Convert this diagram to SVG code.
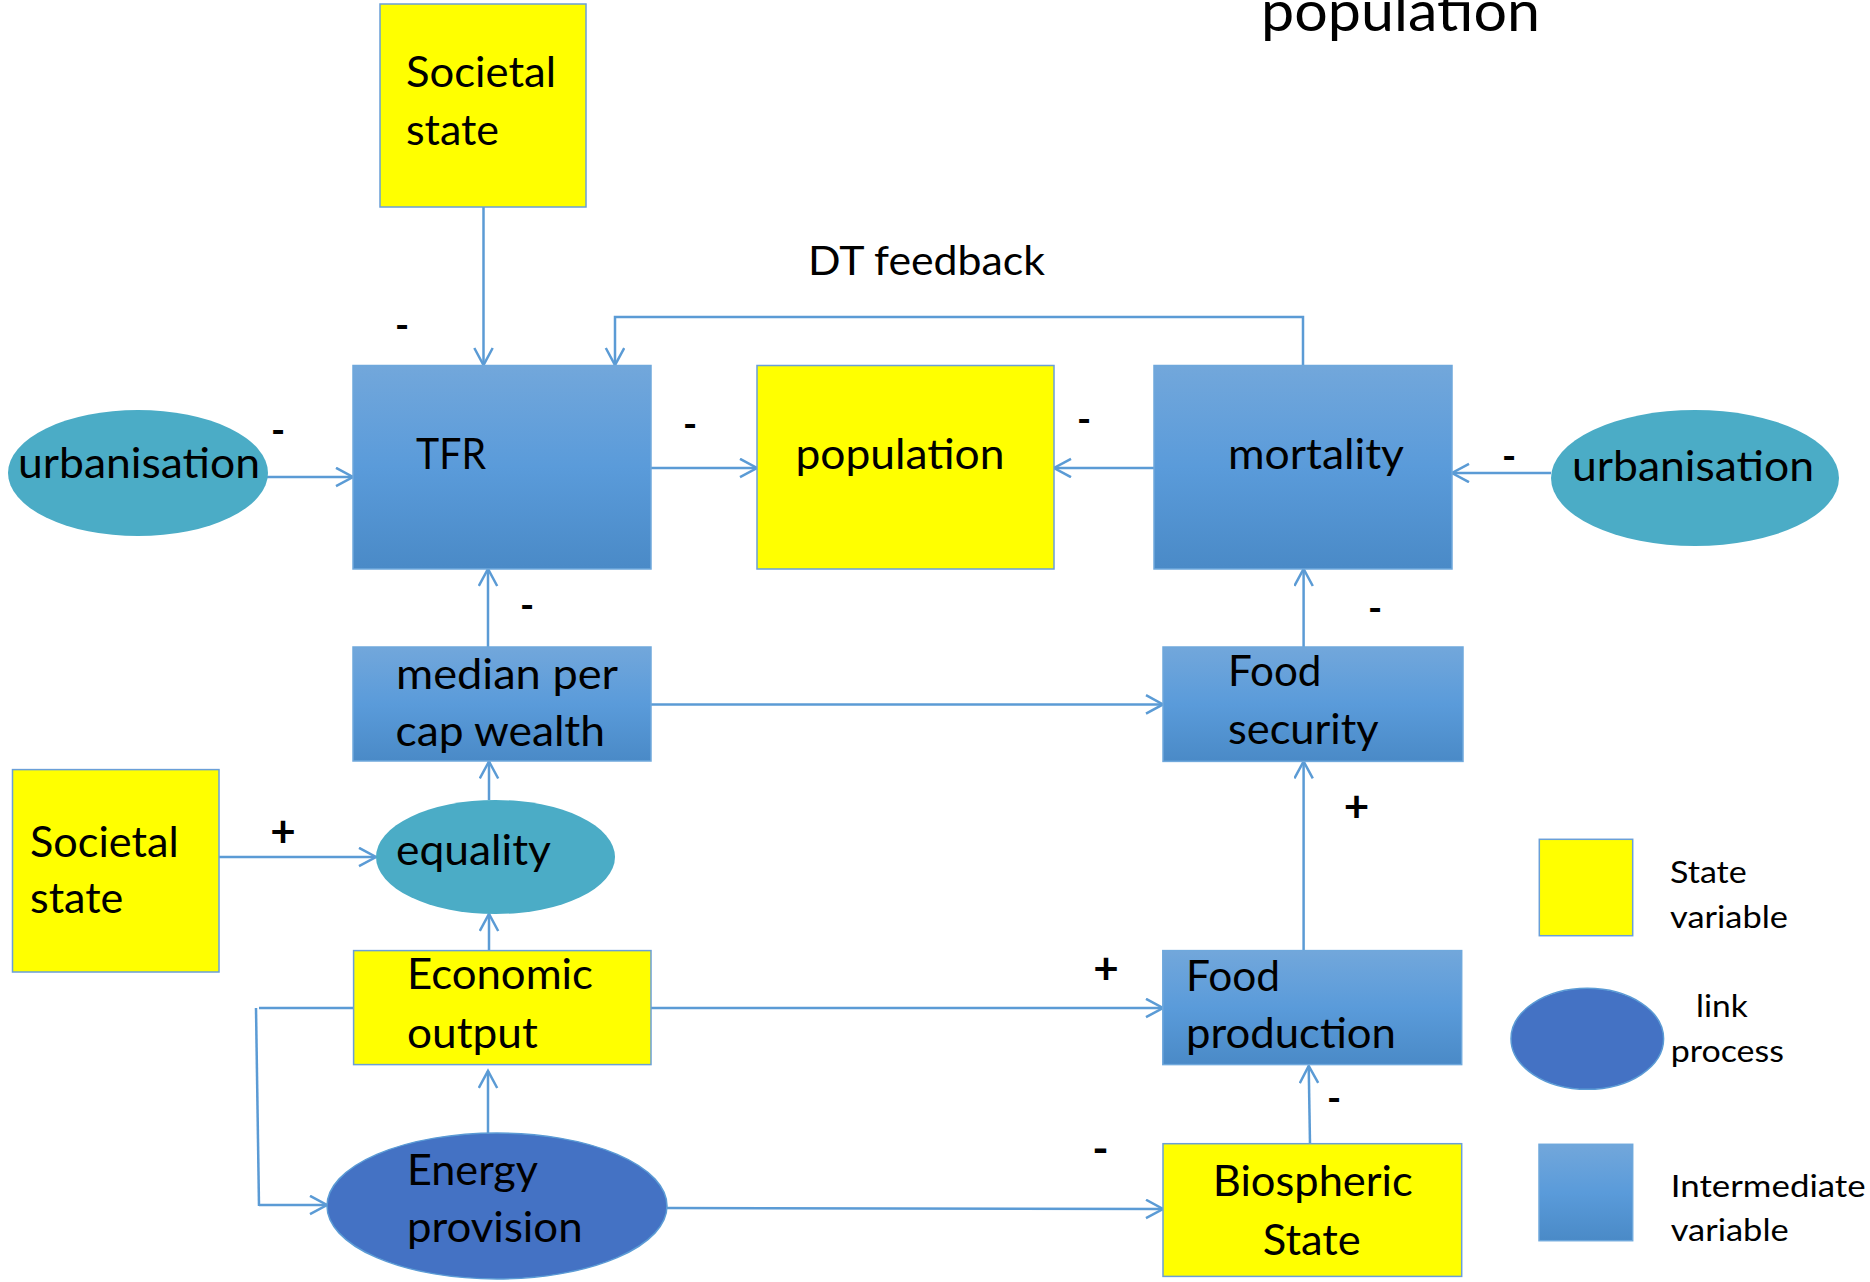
<svg xmlns="http://www.w3.org/2000/svg" width="1870" height="1282" viewBox="0 0 1870 1282">
  <style>
    .state { fill: #FFFF00; stroke: #6A9FD8; stroke-width: 1.5; }
    .inter { fill: url(#blueGrad); stroke: #6FA8DC; stroke-width: 1.5; }
    .link { fill: #4BACC6; }
    .energy { fill: #4472C4; stroke: #5B9BD5; stroke-width: 1.5; }
    .lbl { font-family: Lato, "Liberation Sans", sans-serif; font-size: 42px; fill: #000; }
    .leg { font-family: Lato, "Liberation Sans", sans-serif; font-size: 30px; fill: #000; }
    .sign { font-family: Lato, "Liberation Sans", sans-serif; font-size: 38px; font-weight: bold; fill: #000; text-anchor: middle; }
    .plus { font-family: Lato, "Liberation Sans", sans-serif; font-size: 44px; font-weight: bold; fill: #000; text-anchor: middle; }
    .edge { fill: none; stroke: #5B9BD5; stroke-width: 2.5; }
    .arrow { marker-end: url(#arr); }
  </style>
  <defs>
    <linearGradient id="blueGrad" x1="0" y1="0" x2="0" y2="1">
      <stop offset="0" stop-color="#72A7DB"/>
      <stop offset="0.5" stop-color="#5A9BDA"/>
      <stop offset="1" stop-color="#4A8AC7"/>
    </linearGradient>
    <marker id="arr" markerUnits="userSpaceOnUse" markerWidth="26" markerHeight="26" refX="18" refY="10" orient="auto">
      <path d="M1,0.8 L18,10 L1,19.2" fill="none" stroke="#5B9BD5" stroke-width="2.5"/>
    </marker>
  </defs>

  <!-- title fragment -->
  <text class="lbl" x="1261" y="31" style="font-size:56px" textLength="279" lengthAdjust="spacingAndGlyphs">population</text>
  <text class="lbl" x="808" y="275" style="font-size:40px" textLength="237" lengthAdjust="spacingAndGlyphs">DT feedback</text>

  <!-- connectors -->
  <g id="connectors">
    <path class="edge arrow" d="M483.5,207 L483.5,365"/>
    <path class="edge arrow" d="M1303,365.5 L1303,317 L615,317 L615,365"/>
    <path class="edge arrow" d="M262,477 L353,477"/>
    <path class="edge arrow" d="M651,468 L757,468"/>
    <path class="edge arrow" d="M1154,468 L1054,468"/>
    <path class="edge arrow" d="M1551,473 L1452,473"/>
    <path class="edge arrow" d="M488,647 L488,569"/>
    <path class="edge arrow" d="M1303.6,647 L1303.6,569"/>
    <path class="edge arrow" d="M651,704.4 L1163,704.4"/>
    <path class="edge arrow" d="M219,857 L376,857"/>
    <path class="edge arrow" d="M489,800 L489,761.5"/>
    <path class="edge arrow" d="M489,950.6 L489,914"/>
    <path class="edge arrow" d="M1303.6,950.6 L1303.6,761.4"/>
    <path class="edge arrow" d="M651,1008 L1163,1008"/>
    <path class="edge" d="M353,1008 L259,1008"/>
    <path class="edge" d="M256,1008 L259,1206"/>
    <path class="edge arrow" d="M259,1205 L327,1205"/>
    <path class="edge arrow" d="M488,1133 L488,1071"/>
    <path class="edge arrow" d="M667,1208 L1163,1209"/>
    <path class="edge arrow" d="M1310,1143.7 L1308.7,1066"/>
  </g>

  <!-- nodes -->
  <g id="societal-top">
    <rect class="state" x="380" y="4" width="206" height="203"/>
    <text class="lbl" x="406" y="87" textLength="150" lengthAdjust="spacingAndGlyphs">Societal</text>
    <text class="lbl" x="406" y="145" textLength="93" lengthAdjust="spacingAndGlyphs">state</text>
  </g>
  <g id="urbanisation-left">
    <ellipse class="link" cx="138" cy="473" rx="130" ry="63"/>
    <text class="lbl" x="18" y="478" textLength="242" lengthAdjust="spacingAndGlyphs">urbanisation</text>
  </g>
  <g id="tfr">
    <rect class="inter" x="353" y="365.5" width="298" height="203.5"/>
    <text class="lbl" x="416" y="469" textLength="70" lengthAdjust="spacingAndGlyphs">TFR</text>
  </g>
  <g id="population">
    <rect class="state" x="757" y="365.5" width="297" height="203.5"/>
    <text class="lbl" x="795.5" y="469" textLength="209" lengthAdjust="spacingAndGlyphs">population</text>
  </g>
  <g id="mortality">
    <rect class="inter" x="1154" y="365.5" width="298" height="203.5"/>
    <text class="lbl" x="1228" y="469" textLength="176" lengthAdjust="spacingAndGlyphs">mortality</text>
  </g>
  <g id="urbanisation-right">
    <ellipse class="link" cx="1695" cy="478" rx="144" ry="68"/>
    <text class="lbl" x="1572" y="481" textLength="242" lengthAdjust="spacingAndGlyphs">urbanisation</text>
  </g>
  <g id="median-wealth">
    <rect class="inter" x="353" y="647" width="298" height="114"/>
    <text class="lbl" x="396" y="689" textLength="222" lengthAdjust="spacingAndGlyphs">median per</text>
    <text class="lbl" x="395.5" y="746" textLength="209.5" lengthAdjust="spacingAndGlyphs">cap wealth</text>
  </g>
  <g id="food-security">
    <rect class="inter" x="1163" y="647" width="300" height="114.4"/>
    <text class="lbl" x="1228" y="686" textLength="93.4" lengthAdjust="spacingAndGlyphs">Food</text>
    <text class="lbl" x="1228" y="743.5" textLength="150.6" lengthAdjust="spacingAndGlyphs">security</text>
  </g>
  <g id="societal-left">
    <rect class="state" x="12.5" y="769.6" width="206.5" height="202.4"/>
    <text class="lbl" x="30" y="856.6" textLength="148.6" lengthAdjust="spacingAndGlyphs">Societal</text>
    <text class="lbl" x="30" y="913" textLength="93.3" lengthAdjust="spacingAndGlyphs">state</text>
  </g>
  <g id="equality">
    <ellipse class="link" cx="495.5" cy="857" rx="119.5" ry="57"/>
    <text class="lbl" x="396" y="864.5" textLength="155" lengthAdjust="spacingAndGlyphs">equality</text>
  </g>
  <g id="economic-output">
    <rect class="state" x="353.6" y="950.6" width="297.4" height="114"/>
    <text class="lbl" x="407" y="989" textLength="186" lengthAdjust="spacingAndGlyphs">Economic</text>
    <text class="lbl" x="407" y="1048" textLength="130.8" lengthAdjust="spacingAndGlyphs">output</text>
  </g>
  <g id="food-production">
    <rect class="inter" x="1162.8" y="950.6" width="298.9" height="114"/>
    <text class="lbl" x="1186" y="990.6" textLength="94" lengthAdjust="spacingAndGlyphs">Food</text>
    <text class="lbl" x="1186" y="1048" textLength="210" lengthAdjust="spacingAndGlyphs">production</text>
  </g>
  <g id="energy-provision">
    <ellipse class="energy" cx="497" cy="1206" rx="170" ry="73"/>
    <text class="lbl" x="407" y="1185" textLength="131" lengthAdjust="spacingAndGlyphs">Energy</text>
    <text class="lbl" x="407" y="1241.6" textLength="175.6" lengthAdjust="spacingAndGlyphs">provision</text>
  </g>
  <g id="biospheric-state">
    <rect class="state" x="1163" y="1143.7" width="298.7" height="132.7"/>
    <text class="lbl" x="1212.8" y="1196" textLength="200" lengthAdjust="spacingAndGlyphs">Biospheric</text>
    <text class="lbl" x="1262.8" y="1254.6" textLength="98" lengthAdjust="spacingAndGlyphs">State</text>
  </g>

  <!-- polarity signs -->
  <g id="signs">
    <text class="sign" x="402" y="339">-</text>
    <text class="sign" x="278" y="444">-</text>
    <text class="sign" x="690" y="438">-</text>
    <text class="sign" x="1084" y="433">-</text>
    <text class="sign" x="1509" y="470">-</text>
    <text class="sign" x="527" y="619">-</text>
    <text class="sign" x="1375" y="622">-</text>
    <text class="plus" x="283" y="847">+</text>
    <text class="plus" x="1356.6" y="822">+</text>
    <text class="plus" x="1106" y="984">+</text>
    <text class="sign" x="1334" y="1112">-</text>
    <text class="sign" x="1100.5" y="1164" style="font-size:44px">-</text>
  </g>

  <!-- legend -->
  <g id="legend">
    <rect class="state" x="1539.3" y="839.3" width="93.4" height="96.4"/>
    <text class="leg" x="1670" y="883.3" textLength="76.7" lengthAdjust="spacingAndGlyphs">State</text>
    <text class="leg" x="1670" y="928.3" textLength="118" lengthAdjust="spacingAndGlyphs">variable</text>
    <ellipse class="energy" cx="1587.3" cy="1038.8" rx="76.3" ry="50.5"/>
    <text class="leg" x="1696" y="1017.3" textLength="51.7" lengthAdjust="spacingAndGlyphs">link</text>
    <text class="leg" x="1670.7" y="1061.7" textLength="113.3" lengthAdjust="spacingAndGlyphs">process</text>
    <rect class="inter" x="1539" y="1144.3" width="93.7" height="96.4"/>
    <text class="leg" x="1670.7" y="1197.3" textLength="195" lengthAdjust="spacingAndGlyphs">Intermediate</text>
    <text class="leg" x="1670.7" y="1240.7" textLength="118" lengthAdjust="spacingAndGlyphs">variable</text>
  </g>
</svg>
